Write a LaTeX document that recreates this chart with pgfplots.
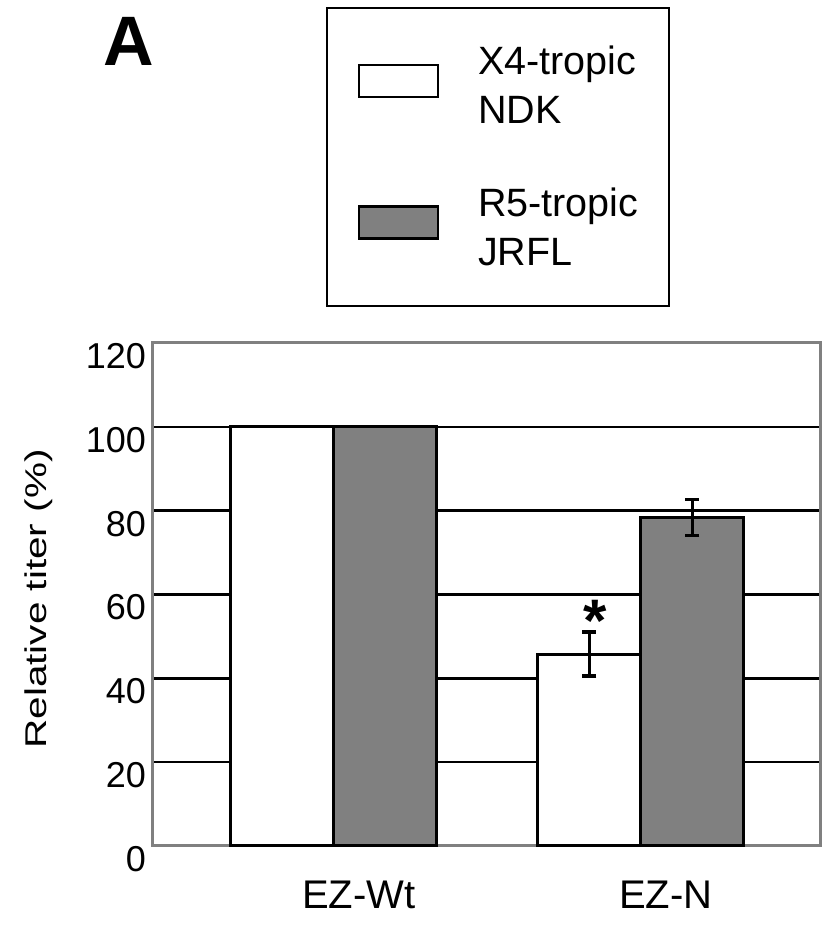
\documentclass[border=0pt]{standalone}
\usepackage{fontspec}
\setmainfont{Liberation Sans}
\usepackage{graphicx}
\usepackage{pgfplots}
\pgfplotsset{compat=1.18}
\definecolor{barGray}{RGB}{128,128,128}
\definecolor{frameGray}{RGB}{128,128,128}
\pgfplotsset{rectlegend/.style={legend image code/.code={\draw[##1, line width=1.1pt] (0pt,-5.25pt) rectangle (39.5pt,10.75pt);}}}
\begin{document}
\begin{tikzpicture}
\begin{axis}[
  name=ax,
  at={(0,0)}, anchor=south west,
  scale only axis, width=333.5pt, height=251.5pt,
  xmin=-0.589, xmax=1.584, ymin=0, ymax=120,
  xtick={0,1}, xticklabels={EZ-Wt,EZ-N},
  ytick={0,20,...,120},
  major tick length=0pt,
  ymajorgrids, grid style={black, line width=1.3pt},
  axis line style={draw=frameGray, line width=1.5pt},
  /pgf/number format/assume math mode=true,
  yticklabel style={font=\fontsize{18}{18}\selectfont, yshift=-6.5pt},
  xticklabel style={font=\fontsize{20}{20}\selectfont, yshift=-14pt, xshift=12.5pt},
  every axis y label/.style={at={(axis description cs:-0.159,0.491)}, anchor=base, rotate=90},
  ylabel={\fontsize{15}{15}\selectfont\scalebox{1.35}[1]{Relative titer (\%)}},
  clip=false,
  legend style={at={(axis description cs:0.2594,1.668)}, anchor=north west,
    draw=black, line width=1pt, inner xsep=15.5pt, inner ysep=19pt,
    row sep=30.5pt, column sep=19.5pt,
    font=\fontsize{19.75}{24.5}\selectfont,
    nodes={inner sep=0pt, align=left}},
  legend cell align=left,
]
\addplot[ybar, bar width=0.3355, bar shift=0pt, fill=white, draw=black, line width=1.5pt,
  rectlegend,
  error bars/.cd, y dir=both, y explicit,
  error bar style={line width=1.4pt, black},
  error mark options={rotate=90, mark size=3.6pt, line width=1.6pt, black}]
  coordinates {(-0.16775,100) +- (0,0) (0.83225,45.8) +- (0,5.25)};
\addlegendentry{X4-tropic\\NDK}
\addplot[ybar, bar width=0.3355, bar shift=0pt, fill=barGray, draw=black, line width=1.5pt,
  rectlegend,
  error bars/.cd, y dir=both, y explicit,
  error bar style={line width=1.4pt, black},
  error mark options={rotate=90, mark size=3.6pt, line width=1.6pt, black}]
  coordinates {(0.16775,100) +- (0,0) (1.16775,78.4) +- (0,4.3)};
\addlegendentry{R5-tropic\\JRFL}
\node[anchor=base west, inner sep=0pt, font=\bfseries\fontsize{35}{35}\selectfont] at (axis description cs:-0.075,1.5507) {A};
\node[anchor=base, inner sep=0pt, font=\bfseries\fontsize{30}{30}\selectfont] at (axis cs:0.853,48.9) {*};
\end{axis}
\path[use as bounding box] ([shift={(-76.5pt,-41.5pt)}]ax.south west) rectangle ([shift={(336pt,423pt)}]ax.south west);
\end{tikzpicture}
\end{document}
